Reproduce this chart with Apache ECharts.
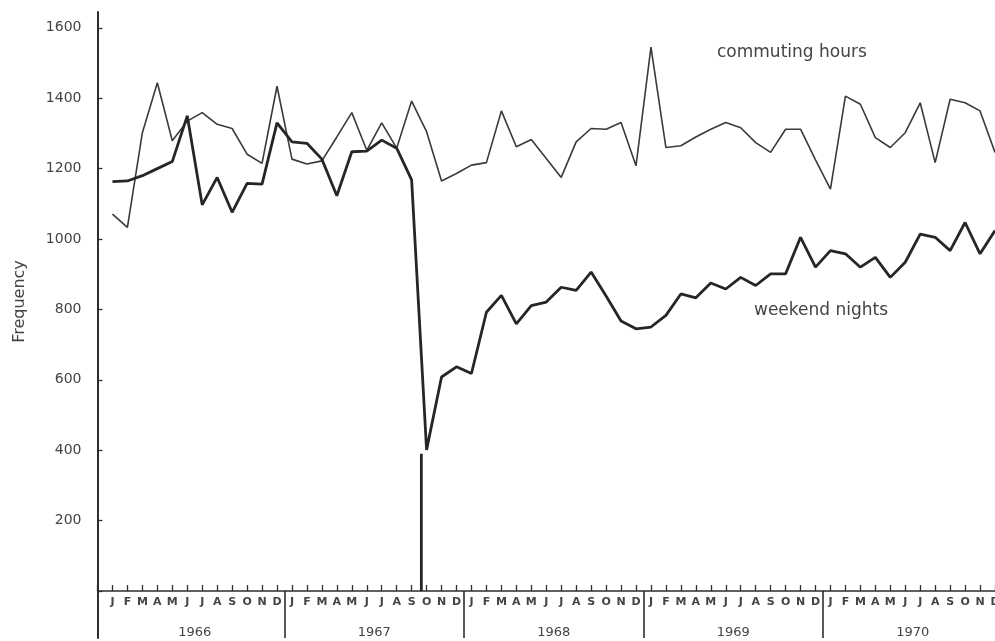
<!DOCTYPE html>
<html>
<head>
<meta charset="utf-8">
<script src="https://cdn.jsdelivr.net/npm/echarts@6/dist/echarts.min.js"></script>
<style>
html,body{margin:0;padding:0;background:#fff;}
#chart{width:995px;height:641px;}
</style>
</head>
<body>
<div id="chart"></div>
<script>
// ---- data (monthly, Jan 1966 .. Dec 1970) ----
const YEARS = ['1966', '1967', '1968', '1969', '1970'];
const MONTH_LETTERS = ['J','F','M','A','M','J','J','A','S','O','N','D'];
const Y_TICKS = [200, 400, 600, 800, 1000, 1200, 1400, 1600];

const COMMUTING = [
  1071, 1033, 1302, 1444, 1279, 1335, 1359, 1326, 1314, 1241, 1215, 1434,
  1227, 1213, 1222, 1290, 1359, 1252, 1330, 1258, 1392, 1305, 1165, 1186,
  1210, 1217, 1364, 1262, 1283, 1229, 1175, 1276, 1314, 1312, 1331, 1208,
  1545, 1260, 1265, 1290, 1312, 1331, 1316, 1274, 1246, 1312, 1312, 1225,
  1142, 1406, 1383, 1288, 1260, 1302, 1387, 1217, 1397, 1387, 1364, 1246
];
const WEEKEND = [
  1163, 1165, 1180, 1200, 1220, 1350, 1097, 1175, 1076, 1158, 1156, 1330,
  1276, 1272, 1227, 1123, 1248, 1250, 1281, 1258, 1168, 401, 608, 637,
  618, 792, 840, 759, 811, 821, 863, 854, 906, 838, 767, 745,
  750, 783, 844, 833, 875, 858, 891, 868, 901, 901, 1005, 920,
  967, 958, 920, 948, 891, 934, 1014, 1005, 967, 1047, 958, 1024
];
// Breath test introduced early Oct 1967 (month position 1 = Jan 1966)
const BREATH_TEST_POS = 21.65;
const BREATH_TEST_TOP = 390;

// ---- build ----
const toPairs = arr => arr.map((v, i) => [i + 1, v]);
const nMonths = YEARS.length * 12;
const yearDividers = YEARS.slice(1).map((y, k) => ({ xAxis: (k + 1) * 12 + 0.5 }));

const INK = '#2e2e2e';
const TXT = '#444';
const PLOT_LEFT = 97.5;
const STEP = (995 - PLOT_LEFT) / nMonths;

const chart = echarts.init(document.getElementById('chart'), null, { renderer: 'canvas' });
chart.setOption({
  backgroundColor: '#ffffff',
  animation: false,
  grid: [
    { left: PLOT_LEFT, right: 0, top: 12, bottom: 50, containLabel: false, outerBoundsMode: 'none' },
    { left: PLOT_LEFT, right: 0, top: 591, bottom: 3, containLabel: false, outerBoundsMode: 'none' },
    { left: PLOT_LEFT + 0.5 * STEP, right: -0.5 * STEP, top: 591, bottom: 16, containLabel: false, outerBoundsMode: 'none' }
  ],
  xAxis: [
    {
      gridIndex: 0, type: 'value', min: 0, max: nMonths, interval: 1,
      axisLine: { show: true, onZero: false, lineStyle: { color: INK, width: 1.5 } },
      axisTick: { show: true, inside: true, length: 6, lineStyle: { color: INK, width: 1.3 } },
      axisLabel: {
        show: true, margin: 6, fontSize: 11, fontWeight: 'bold', color: TXT,
        fontFamily: 'DejaVu Sans',
        formatter: v => (v >= 1 && v <= nMonths && Number.isInteger(v)) ? MONTH_LETTERS[(v - 1) % 12] : ''
      },
      splitLine: { show: false }
    },
    {
      gridIndex: 1, type: 'value', min: 0, max: nMonths,
      axisLine: { show: false }, axisTick: { show: false }, axisLabel: { show: false }, splitLine: { show: false }
    },
    {
      gridIndex: 2, type: 'category', data: YEARS, boundaryGap: true,
      axisLine: { show: false }, axisTick: { show: false },
      axisLabel: { show: true, margin: 1, fontSize: 13, color: TXT, fontFamily: 'DejaVu Sans', verticalAlign: 'top' },
      splitLine: { show: false }
    }
  ],
  yAxis: [
    {
      gridIndex: 0, type: 'value', min: 0, max: 1645, interval: 200,
      name: 'Frequency', nameLocation: 'middle', nameGap: 70,
      nameTextStyle: { fontSize: 16, color: TXT, fontFamily: 'DejaVu Sans' },
      axisLine: { show: true, lineStyle: { color: INK, width: 2 } },
      axisTick: { show: true, inside: true, length: 5, lineStyle: { color: INK, width: 1.3 } },
      axisLabel: {
        show: true, margin: 16, fontSize: 14, color: TXT, fontFamily: 'DejaVu Sans',
        showMaxLabel: false,
        formatter: v => Y_TICKS.indexOf(v) >= 0 ? String(v) : ''
      },
      splitLine: { show: false }
    },
    {
      gridIndex: 1, type: 'value', min: 0, max: 1,
      axisLine: { show: true, lineStyle: { color: INK, width: 2 } },
      axisTick: { show: false }, axisLabel: { show: false }, splitLine: { show: false }
    },
    {
      gridIndex: 2, type: 'value', show: false
    }
  ],
  series: [
    {
      name: 'commuting hours', type: 'line', xAxisIndex: 0, yAxisIndex: 0,
      data: toPairs(COMMUTING), showSymbol: false, symbol: 'none',
      lineStyle: { color: '#3a3a3a', width: 1.6 }
    },
    {
      name: 'weekend nights', type: 'line', xAxisIndex: 0, yAxisIndex: 0,
      data: toPairs(WEEKEND), showSymbol: false, symbol: 'none',
      lineStyle: { color: '#262626', width: 2.8 }
    },
    {
      name: 'breath test', type: 'line', xAxisIndex: 0, yAxisIndex: 0,
      data: [[BREATH_TEST_POS, 0], [BREATH_TEST_POS, BREATH_TEST_TOP]],
      showSymbol: false, symbol: 'none',
      lineStyle: { color: '#262626', width: 2.8 }
    },
    {
      name: 'year boxes', type: 'line', xAxisIndex: 1, yAxisIndex: 1,
      data: [], symbol: 'none',
      markLine: {
        silent: true, symbol: ['none', 'none'], label: { show: false },
        lineStyle: { color: INK, width: 1.6, type: 'solid' },
        data: yearDividers
      }
    }
  ],
  graphic: [
    { type: 'text', left: 717, top: 44, style: { text: 'commuting hours', fontSize: 17, fill: TXT, fontFamily: 'DejaVu Sans' } },
    { type: 'text', left: 754, top: 302, style: { text: 'weekend nights', fontSize: 17, fill: TXT, fontFamily: 'DejaVu Sans' } }
  ]
});
</script>
</body>
</html>
